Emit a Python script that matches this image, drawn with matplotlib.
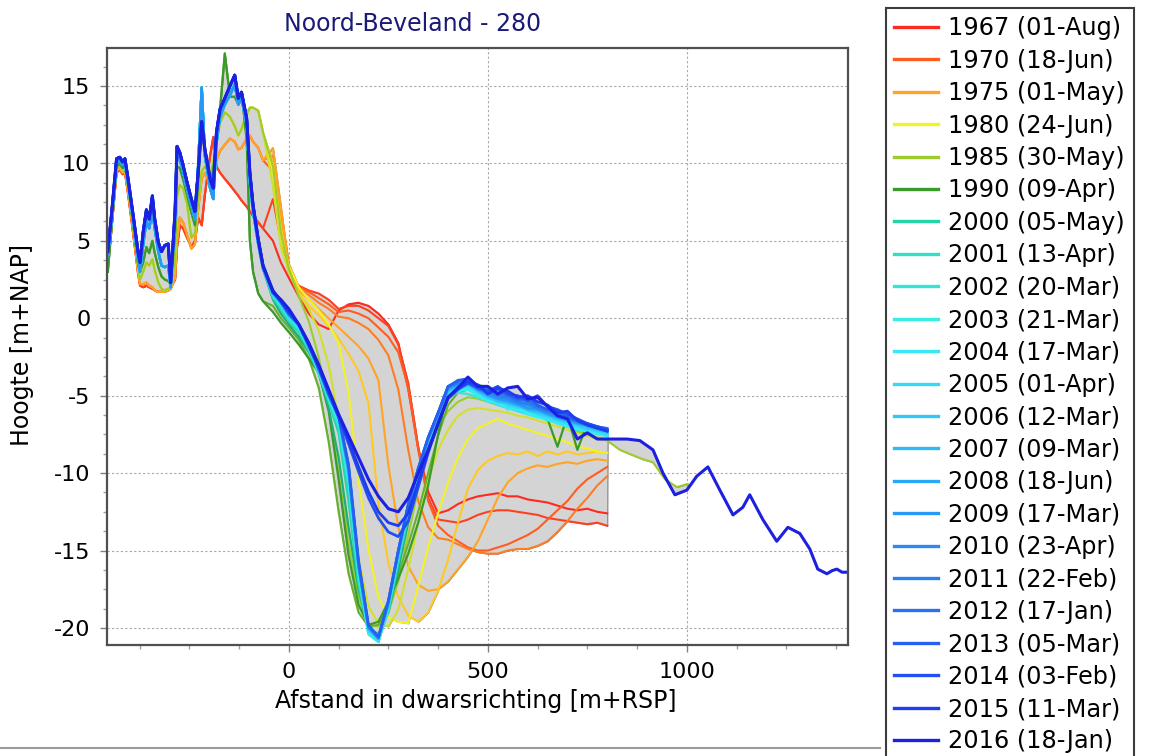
import numpy as np
import matplotlib
matplotlib.use('Agg')
import matplotlib.pyplot as plt
from matplotlib.lines import Line2D
from matplotlib.ticker import MultipleLocator

plt.rcParams['axes.unicode_minus'] = False

# ---- data (x in m+RSP, y in m+NAP) ----

# dune part, shared stations
DUNE_X = [-455, -445, -433, -425, -418, -412, -404, -391, -379, -374, -366, -358, -351, -343, -337,
          -328, -320, -312, -303, -297, -286, -281, -274, -266, -256, -245, -236, -228, -219, -211,
          -198, -190, -182, -173, -161, -148, -136, -127, -119, -106, -98, -90, -77, -65]

DUNE_RED = [3.3, 6.0, 9.4, 9.6, 9.3, 9.4, 8.0, 5.4, 2.9, 2.1, 2.0, 2.1, 2.0, 1.9, 1.8,
            1.7, 1.7, 1.8, 1.9, 2.0, 2.5, 4.6, 6.0, 5.8, 5.2, 4.6, 5.0, 6.5, 6.0, 8.0,
            10.5, 11.7, 9.8, 9.4, 9.0, 8.6, 8.2, 7.9, 7.6, 7.2, 6.9, 6.6, 6.2, 5.8]
DUNE_ORANGE = [3.3, 6.0, 9.5, 9.7, 9.4, 9.5, 8.2, 5.6, 3.0, 2.2, 2.2, 2.3, 2.1, 2.0, 1.8,
               1.7, 1.7, 1.7, 1.8, 1.9, 2.6, 5.0, 6.5, 6.2, 5.4, 4.5, 4.8, 7.0, 9.0, 9.4,
               8.6, 9.0, 10.2, 10.8, 11.2, 11.6, 11.4, 10.9, 11.0, 11.6, 11.8, 11.4, 11.0, 10.2]
DUNE_YELLOW = [3.5, 6.3, 9.7, 9.9, 9.6, 9.7, 8.4, 5.9, 3.3, 2.5, 3.0, 3.6, 3.4, 3.8, 3.1,
               2.3, 1.9, 1.8, 1.9, 2.0, 3.5, 7.8, 8.6, 8.4, 7.4, 5.2, 5.5, 7.5, 9.5, 9.8,
               9.3, 10.0, 11.4, 12.6, 13.3, 13.0, 12.4, 11.8, 12.2, 13.2, 13.6, 13.6, 13.4, 12.0]
DUNE_GREEN = [3.0, 6.0, 9.8, 10.0, 9.7, 9.8, 8.6, 6.0, 3.5, 3.0, 3.6, 4.6, 4.2, 5.0, 4.2,
              3.3, 2.7, 2.5, 2.4, 2.2, 5.5, 9.8, 9.7, 9.0, 8.0, 6.8, 6.0, 8.8, 12.3, 10.6,
              8.8, 9.5, 11.8, 13.5, 17.1, 14.3, 14.3, 13.8, 14.6, 11.5, 5.0, 3.0, 1.6, 1.1]
DUNE_CYAN = [4.0, 6.5, 10.0, 10.2, 9.9, 10.0, 8.7, 6.3, 3.9, 3.0, 4.8, 6.3, 5.8, 6.9, 5.8,
             4.3, 3.4, 3.3, 3.4, 2.0, 6.5, 10.6, 10.2, 9.5, 8.4, 7.3, 6.4, 9.8, 14.9, 10.5,
             8.4, 7.7, 11.3, 13.0, 13.8, 14.4, 15.1, 13.8, 14.2, 12.5, 8.8, 6.9, 4.8, 3.2]
DUNE_BLUE = [4.3, 6.9, 10.3, 10.4, 10.1, 10.3, 9.0, 6.6, 4.3, 3.6, 5.6, 7.0, 6.4, 7.9, 6.4,
             4.9, 4.3, 4.7, 4.8, 2.3, 6.9, 11.1, 10.7, 9.9, 8.8, 7.7, 6.9, 9.4, 12.7, 10.9,
             9.0, 8.4, 12.0, 13.5, 14.2, 15.0, 15.7, 14.2, 14.6, 12.9, 9.4, 7.3, 5.1, 3.4]

# channel part, shared stations
CHAN_X = [-40, -20, 0, 25, 50, 75, 100, 125, 150, 175, 200, 225, 250, 275, 300, 325, 350, 375,
          400, 425, 450, 475, 500, 525, 550, 575, 600, 625, 650, 675, 700, 725, 750, 775, 800]

Y1967 = [5.0, 3.6, 2.6, 1.4, 0.3, -0.4, -0.7, 0.5, 0.9, 1.0, 0.8, 0.3, -0.4, -1.6, -4.6, -8.4, -11.2, -12.6,
         -12.4, -12.0, -11.7, -11.5, -11.4, -11.3, -11.5, -11.5, -11.7, -11.8, -11.9, -12.1, -12.3, -12.4, -12.3, -12.5, -12.6]
Y1968 = [7.7, 5.0, 3.0, 2.1, 1.8, 1.6, 1.2, 0.6, 0.8, 0.8, 0.5, 0.0, -0.5, -1.7, -4.2, -8.3, -11.6, -13.0,
         -13.1, -13.2, -13.0, -12.7, -12.5, -12.4, -12.4, -12.5, -12.6, -12.7, -12.9, -13.0, -13.1, -13.2, -13.3, -13.2, -13.4]
Y1970 = [9.5, 6.5, 3.3, 2.0, 1.7, 1.3, 0.9, 0.4, 0.5, 0.3, 0.0, -0.6, -1.2, -2.2, -4.5, -8.5, -11.8, -13.4,
         -14.0, -14.4, -14.8, -15.0, -15.0, -14.8, -14.6, -14.3, -14.0, -13.6, -13.0, -12.4, -11.8, -11.0, -10.4, -10.0, -9.6]
Y1972 = [10.5, 7.0, 3.5, 2.0, 1.5, 1.0, 0.6, 0.1, 0.0, -0.3, -0.7, -1.4, -2.4, -4.6, -8.5, -11.8, -13.5, -14.2,
         -14.3, -14.6, -14.9, -15.1, -15.2, -15.2, -15.0, -14.9, -14.9, -14.7, -14.4, -13.8, -13.1, -12.3, -11.6, -10.8, -10.2]
Y1975 = [11.0, 7.2, 3.2, 1.8, 1.2, 0.6, 0.0, -0.6, -1.2, -1.8, -2.6, -4.0, -9.5, -13.5, -16.0, -17.2, -17.6, -17.5,
         -17.0, -16.2, -15.4, -14.4, -13.0, -11.6, -10.6, -10.0, -9.7, -9.5, -9.6, -9.4, -9.3, -9.4, -9.2, -9.1, -9.2]
Y1977 = [10.0, 6.0, 3.0, 1.6, 0.8, 0.2, -0.5, -1.3, -2.3, -3.4, -5.5, -12.0, -15.8, -18.0, -19.2, -19.6, -19.0, -17.6,
         -15.6, -13.2, -11.0, -9.8, -9.2, -8.9, -8.7, -8.8, -8.6, -8.9, -8.6, -8.8, -8.6, -8.8, -8.7, -8.6, -8.7]
Y1980 = [9.4, 5.1, 3.4, 2.0, 1.2, 0.5, -0.4, -1.6, -4.8, -10.4, -14.9, -18.0, -19.3, -19.6, -19.7, -17.3, -14.8, -12.6,
         -10.6, -9.0, -7.8, -7.1, -6.8, -6.5, -6.8, -7.0, -7.2, -7.4, -7.6, -7.8, -8.0, -8.3, -8.4, -8.6, -8.7]
Y1982 = [8.5, 4.6, 3.0, 1.6, 0.6, -0.8, -3.0, -6.5, -11.0, -15.5, -18.6, -19.7, -19.9, -18.8, -16.2, -13.2, -10.5, -8.5,
         -7.2, -6.3, -5.9, -5.8, -5.9, -6.0, -6.1, -6.3, -6.4, -6.6, -6.8, -7.0, -7.2, -7.4, -7.6, -7.8, -7.9]
Y1985 = [9.8, 5.5, 3.2, 1.4, -0.2, -2.5, -5.8, -10.0, -14.5, -18.0, -19.8, -19.9, -19.0, -17.0, -14.0, -11.0, -8.6, -7.0,
         -6.0, -5.4, -5.1, -5.2, -5.4, -5.6, -5.7, -5.9, -6.0, -6.3, -6.5, -6.8, -7.0, -7.3, -7.5, -7.7, -7.9]
Y1988 = [0.8, 0.0, -0.6, -1.4, -2.6, -4.5, -8.0, -12.5, -16.5, -19.0, -19.9, -19.8, -18.6, -16.5, -14.6, -12.5, -10.0, -7.6,
         -5.6, -4.8, -4.6, -4.8, -5.0, -5.2, -5.3, -5.6, -5.8, -6.0, -6.3, -6.5, -6.7, -7.0, -7.2, -7.4, -7.6]
Y1990 = [0.4, -0.3, -0.9, -1.7, -2.6, -3.5, -6.0, -10.4, -15.3, -18.5, -19.8, -19.6, -18.3, -16.8, -15.2, -13.2, -10.8, -7.5,
         -4.6, -4.0, -4.2, -4.3, -4.5, -4.8, -5.0, -5.1, -5.4, -5.6, -6.5, -8.3, -6.3, -8.5, -6.8, -7.2, -7.3]
Y1995 = [1.2, 0.3, -0.4, -1.2, -2.2, -3.5, -5.8, -9.0, -13.5, -17.5, -20.0, -20.4, -19.0, -16.2, -13.2, -10.5, -8.2, -6.2,
         -4.8, -4.3, -4.4, -4.6, -4.8, -5.0, -5.2, -5.4, -5.6, -5.9, -6.1, -6.3, -6.5, -6.7, -6.9, -7.1, -7.3]
Y2000 = [1.3, 0.6, -0.2, -0.9, -2.1, -3.6, -5.4, -7.4, -11.8, -17.2, -20.2, -20.5, -18.8, -15.8, -12.8, -10.3, -8.2, -6.6,
         -4.9, -4.5, -4.4, -4.8, -5.1, -5.4, -5.6, -5.8, -6.0, -6.2, -6.4, -6.6, -6.8, -7.0, -7.1, -7.3, -7.5]
Y2001 = [1.4, 0.7, -0.1, -0.8, -2.0, -3.5, -5.3, -7.0, -11.0, -16.8, -20.3, -20.8, -18.9, -15.6, -12.6, -10.1, -8.0, -6.4,
         -4.8, -4.5, -4.6, -4.9, -5.2, -5.5, -5.7, -5.8, -6.1, -6.3, -6.5, -6.6, -6.9, -7.0, -7.2, -7.4, -7.5]
Y2002 = [1.5, 0.8, 0.0, -0.7, -1.9, -3.5, -5.2, -6.9, -10.6, -16.6, -20.4, -20.9, -18.7, -15.4, -12.5, -10.0, -8.0, -6.5,
         -5.0, -4.8, -4.9, -5.1, -5.3, -5.6, -5.8, -6.0, -6.2, -6.3, -6.6, -6.7, -6.9, -7.1, -7.3, -7.4, -7.6]
Y2003 = [1.5, 0.9, 0.1, -0.6, -1.8, -3.4, -5.1, -6.7, -10.4, -16.4, -20.4, -20.9, -18.6, -15.3, -12.4, -10.0, -8.0, -6.4,
         -4.9, -4.7, -4.6, -5.0, -5.4, -5.2, -5.9, -5.7, -6.2, -6.4, -6.5, -6.8, -7.0, -7.2, -7.3, -7.5, -7.6]
Y2004 = [1.6, 0.9, 0.1, -0.6, -1.8, -3.4, -5.1, -6.6, -10.2, -16.3, -20.3, -20.8, -18.6, -15.2, -12.3, -9.9, -7.9, -6.4,
         -4.8, -4.6, -4.5, -4.9, -5.3, -5.5, -5.8, -5.9, -6.1, -6.3, -6.5, -6.7, -6.9, -7.1, -7.2, -7.4, -7.5]
Y2005 = [1.6, 1.0, 0.1, -0.5, -1.8, -3.4, -5.0, -6.5, -10.1, -16.2, -20.2, -20.8, -18.5, -15.2, -12.3, -9.9, -7.9, -6.3,
         -4.7, -4.5, -4.4, -4.8, -5.2, -5.0, -5.6, -5.8, -5.6, -6.2, -6.4, -6.6, -6.8, -7.0, -7.2, -7.3, -7.5]
Y2006 = [1.6, 1.0, 0.2, -0.5, -1.7, -3.3, -5.0, -6.4, -10.0, -16.1, -20.1, -20.7, -18.5, -15.1, -12.2, -9.8, -7.9, -6.3,
         -4.7, -4.4, -4.3, -4.7, -5.1, -5.4, -5.5, -5.7, -5.9, -6.1, -6.3, -6.5, -6.7, -6.9, -7.1, -7.2, -7.4]
Y2007 = [1.6, 1.0, 0.2, -0.5, -1.7, -3.3, -5.0, -6.4, -9.9, -16.0, -20.0, -20.7, -18.4, -15.1, -12.2, -9.8, -7.8, -6.2,
         -4.6, -4.4, -4.2, -4.7, -5.0, -5.3, -5.4, -5.6, -5.9, -6.0, -6.2, -6.5, -6.6, -6.8, -7.0, -7.2, -7.3]
Y2008 = [1.6, 1.0, 0.2, -0.4, -1.7, -3.3, -5.0, -6.3, -9.8, -16.0, -20.0, -20.7, -18.4, -15.2, -12.2, -9.8, -7.8, -6.2,
         -4.6, -4.3, -4.2, -4.6, -5.0, -5.2, -5.4, -5.6, -5.8, -5.9, -6.2, -6.4, -6.6, -6.8, -6.9, -7.1, -7.3]
Y2009 = [1.6, 1.0, 0.2, -0.4, -1.7, -3.3, -4.9, -6.3, -9.7, -15.9, -20.0, -20.6, -18.3, -15.1, -12.1, -9.8, -7.8, -6.2,
         -4.5, -4.3, -4.1, -4.6, -4.9, -5.2, -5.3, -5.5, -5.8, -5.9, -6.1, -6.4, -6.5, -6.7, -6.9, -7.1, -7.2]
Y2010 = [1.7, 1.0, 0.3, -0.4, -1.7, -3.3, -4.9, -6.3, -9.7, -15.9, -19.9, -20.6, -18.3, -15.1, -12.1, -9.7, -7.7, -6.1,
         -4.5, -4.2, -4.1, -4.5, -4.8, -5.1, -5.2, -5.5, -5.6, -5.8, -6.1, -6.3, -6.5, -6.7, -6.9, -7.0, -7.2]
Y2011 = [1.7, 1.1, 0.3, -0.4, -1.6, -3.2, -4.9, -6.3, -9.6, -15.8, -19.9, -20.6, -18.3, -15.0, -12.1, -9.7, -7.7, -6.1,
         -4.4, -4.2, -4.0, -4.6, -4.7, -5.0, -5.1, -5.4, -5.5, -5.8, -6.0, -6.2, -6.5, -6.7, -6.9, -7.0, -7.2]
Y2012 = [1.7, 1.1, 0.3, -0.4, -1.6, -3.2, -4.9, -6.3, -9.5, -15.7, -19.8, -20.6, -18.2, -15.0, -12.0, -9.7, -7.7, -6.1,
         -4.4, -4.1, -3.9, -4.5, -4.6, -4.8, -5.0, -5.3, -5.3, -5.7, -5.9, -6.1, -6.4, -6.6, -6.8, -7.0, -7.1]
Y2013 = [1.7, 1.1, 0.3, -0.4, -1.6, -3.2, -4.9, -6.3, -9.4, -15.6, -19.8, -20.6, -18.3, -15.0, -12.0, -9.7, -7.7, -6.1,
         -4.4, -4.0, -3.9, -4.5, -4.7, -4.6, -4.9, -5.2, -5.1, -5.6, -5.9, -6.0, -6.4, -6.6, -6.8, -7.0, -7.2]
Y2014 = [1.8, 1.1, 0.4, -0.4, -1.8, -3.2, -4.8, -6.4, -8.1, -9.9, -11.6, -12.9, -13.8, -14.1, -13.1, -10.9, -8.7, -6.8,
         -5.2, -4.6, -4.2, -4.5, -4.7, -4.4, -4.9, -5.0, -5.3, -5.0, -5.7, -5.9, -6.2, -6.5, -6.8, -7.0, -7.2]
Y2015 = [1.8, 1.1, 0.4, -0.4, -1.7, -3.1, -4.7, -6.3, -7.9, -9.6, -11.2, -12.5, -13.2, -13.4, -12.6, -10.6, -8.6, -6.8,
         -5.1, -4.5, -4.1, -4.3, -4.9, -4.5, -4.7, -5.1, -5.0, -5.4, -5.6, -6.1, -6.0, -6.6, -6.9, -7.1, -7.3]
Y2016 = [1.7, 1.2, 0.6, -0.4, -1.6, -3.0, -4.6, -6.2, -7.6, -9.0, -10.4, -11.5, -12.3, -12.5, -11.6, -10.0, -8.5, -6.8,
         -5.1, -4.5, -3.8, -4.4, -4.4, -4.9, -4.5, -4.4, -5.2, -5.1, -5.7, -6.3, -6.5, -7.8, -7.4, -7.8, -7.8]

# seaward tails measured beyond 800 m
TAIL1985_X = [832, 860, 889, 915, 945, 975, 1002]
TAIL1985_Y = [-8.5, -8.8, -9.1, -9.3, -10.4, -10.9, -10.7]
TAIL2016_X = [825, 850, 882, 915, 940, 970, 1000, 1025, 1053, 1083, 1116, 1141, 1158, 1191,
              1226, 1254, 1284, 1309, 1329, 1352, 1365, 1377, 1390, 1402]
TAIL2016_Y = [-7.8, -7.8, -7.9, -8.5, -10.0, -11.4, -11.1, -10.2, -9.6, -11.1, -12.7, -12.2, -11.4, -13.0,
              -14.4, -13.5, -13.9, -14.9, -16.2, -16.5, -16.3, -16.2, -16.4, -16.4]

# label, colour, dune part, channel part, tail x, tail y, width
PROFILES = [
    ('1967 (01-Aug)', '#ff2a1e', DUNE_RED, Y1967, [], [], 1.5),
    (None, '#ff4020', DUNE_RED, Y1968, [], [], 1.5),
    ('1970 (18-Jun)', '#ff5c22', DUNE_ORANGE, Y1970, [], [], 1.5),
    (None, '#ff7c22', DUNE_ORANGE, Y1972, [], [], 1.5),
    ('1975 (01-May)', '#ffa424', DUNE_ORANGE, Y1975, [], [], 1.5),
    (None, '#ffc824', DUNE_YELLOW, Y1977, [], [], 1.5),
    ('1980 (24-Jun)', '#f2f224', DUNE_YELLOW, Y1980, [], [], 1.5),
    (None, '#d2e02a', DUNE_YELLOW, Y1982, [], [], 1.5),
    ('1985 (30-May)', '#9ccc30', DUNE_YELLOW, Y1985, TAIL1985_X, TAIL1985_Y, 1.5),
    (None, '#66b22e', DUNE_GREEN, Y1988, [], [], 1.5),
    ('1990 (09-Apr)', '#3a9a2a', DUNE_GREEN, Y1990, [], [], 1.6),
    (None, '#22ac78', DUNE_CYAN, Y1995, [], [], 1.6),
    ('2000 (05-May)', '#22d6a8', DUNE_CYAN, Y2000, [], [], 1.7),
    ('2001 (13-Apr)', '#2ee0c6', DUNE_CYAN, Y2001, [], [], 1.7),
    ('2002 (20-Mar)', '#32e6d6', DUNE_CYAN, Y2002, [], [], 1.7),
    ('2003 (21-Mar)', '#38ecea', DUNE_CYAN, Y2003, [], [], 1.7),
    ('2004 (17-Mar)', '#38e8f6', DUNE_CYAN, Y2004, [], [], 1.7),
    ('2005 (01-Apr)', '#34daf8', DUNE_CYAN, Y2005, [], [], 1.7),
    ('2006 (12-Mar)', '#30c8f8', DUNE_CYAN, Y2006, [], [], 1.7),
    ('2007 (09-Mar)', '#2eb8f8', DUNE_CYAN, Y2007, [], [], 1.7),
    ('2008 (18-Jun)', '#2aa8f8', DUNE_CYAN, Y2008, [], [], 1.7),
    ('2009 (17-Mar)', '#2898f6', DUNE_CYAN, Y2009, [], [], 1.7),
    ('2010 (23-Apr)', '#2a8cf2', DUNE_BLUE, Y2010, [], [], 1.8),
    ('2011 (22-Feb)', '#2a80f0', DUNE_BLUE, Y2011, [], [], 1.8),
    ('2012 (17-Jan)', '#2a70f0', DUNE_BLUE, Y2012, [], [], 1.8),
    ('2013 (05-Mar)', '#2660f0', DUNE_BLUE, Y2013, [], [], 1.8),
    ('2014 (03-Feb)', '#2250f0', DUNE_BLUE, Y2014, [], [], 2.0),
    ('2015 (11-Mar)', '#1e3cf0', DUNE_BLUE, Y2015, [], [], 2.0),
    ('2016 (18-Jan)', '#1c20e0', DUNE_BLUE, Y2016, TAIL2016_X, TAIL2016_Y, 2.2),
]

fig = plt.figure(figsize=(11.52, 7.56), dpi=100)
ax = fig.add_axes([107 / 1152, 1 - 645 / 756, 741 / 1152, 597 / 756])

# gray band between lowest and highest profile
grid = np.arange(-455, 1403, 1.0)
stack = []
curves = []
for label, color, dune, chan, tx, ty, lw in PROFILES:
    xs = np.array(DUNE_X + CHAN_X + list(tx), dtype=float)
    ys = np.array(list(dune) + list(chan) + list(ty), dtype=float)
    curves.append((xs, ys))
    stack.append(np.interp(grid, xs, ys, left=np.nan, right=np.nan))
stack = np.array(stack)
valid = ~np.isnan(stack)
cnt = valid.sum(axis=0)
lo = np.where(valid, stack, np.inf).min(axis=0)
hi = np.where(valid, stack, -np.inf).max(axis=0)
mask = cnt >= 2
lo[~mask] = np.nan
hi[~mask] = np.nan
ax.fill_between(grid, lo, hi, where=mask, facecolor='#d4d4d4', edgecolor='#808080', lw=0.8, zorder=1)

handles = []
for (label, color, dune, chan, tx, ty, lw), (xs, ys) in zip(PROFILES, curves):
    ax.plot(xs, ys, color=color, lw=lw, zorder=2, solid_joinstyle='round')
    if label:
        handles.append(Line2D([], [], color=color, lw=2.4, label=label))

ax.set_xlim(-457, 1405)
ax.set_ylim(-21.1, 17.45)
ax.xaxis.set_major_locator(MultipleLocator(500))
ax.xaxis.set_minor_locator(MultipleLocator(125))
ax.yaxis.set_major_locator(MultipleLocator(5))
ax.yaxis.set_minor_locator(MultipleLocator(1.25))
ax.grid(True, which='major', color='#a8a8a8', linestyle=(0, (2, 2)), linewidth=0.8, zorder=0)
ax.set_axisbelow(True)
ax.tick_params(which='major', direction='out', length=5, width=1, color='#808080', labelsize=16, pad=7)
ax.tick_params(which='minor', direction='out', length=3, width=1, color='#a0a0a0')
for s in ax.spines.values():
    s.set_color('#505050')
    s.set_linewidth(1.6)

fig.text(413 / 1152, 1 - 24 / 756, 'Noord-Beveland - 280', ha='center', va='center', fontsize=17, color='#1a1a78')
fig.text(476 / 1152, 1 - 701 / 756, 'Afstand in dwarsrichting [m+RSP]', ha='center', va='center', fontsize=17)
fig.text(22 / 1152, 1 - 345 / 756, 'Hoogte [m+NAP]', ha='center', va='center', rotation=90, fontsize=17)

leg = fig.legend(handles=handles, loc='upper left', bbox_to_anchor=(886 / 1152, 1 - 8 / 756),
                 borderaxespad=0, fontsize=17.3, handlelength=1.8, handletextpad=0.45,
                 borderpad=0.35, labelspacing=0.35, fancybox=False, framealpha=1)
leg.get_frame().set_edgecolor('#3c3c3c')
leg.get_frame().set_linewidth(1.5)

fig.add_artist(Line2D([0, 880 / 1152], [1 - 748 / 756, 1 - 748 / 756], transform=fig.transFigure,
                      color='#9a9a9a', lw=1.5))

fig.savefig('out.png', dpi=100)
